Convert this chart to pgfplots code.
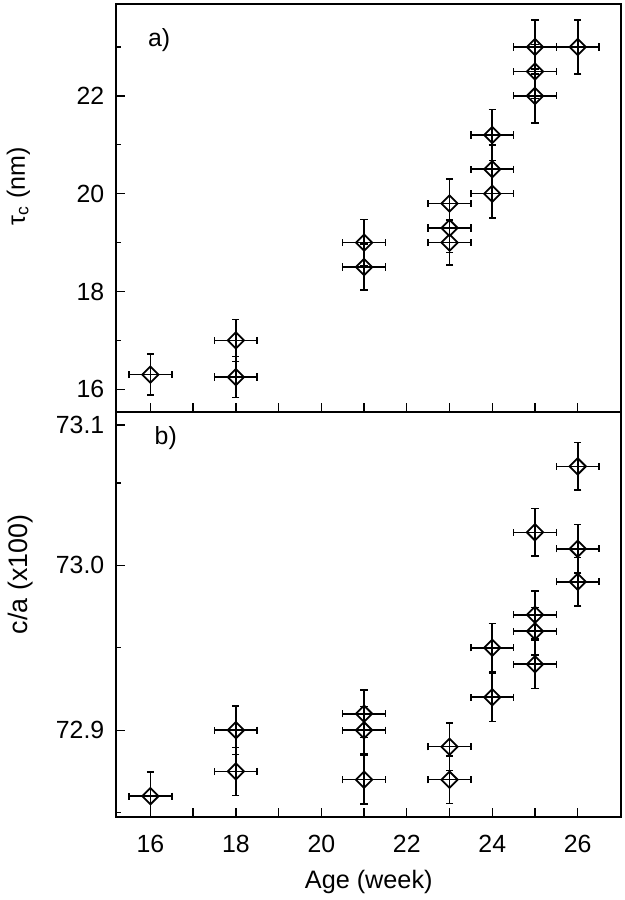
\documentclass[border=0pt]{standalone}
\usepackage{fontspec}
\setmainfont{Liberation Sans}
\usepackage{pgfplots}
\pgfplotsset{compat=1.18}
\usepackage{pgfplotstable}
\pgfplotstableread{
x y ex ey
16 16.3 0.5 0.42
18 17.0 0.5 0.43
18 16.25 0.5 0.42
21 19.0 0.5 0.47
21 18.5 0.5 0.47
23 19.8 0.5 0.5
23 19.3 0.5 0.5
23 19.0 0.5 0.46
24 21.2 0.5 0.52
24 20.5 0.5 0.5
24 20.0 0.5 0.5
25 23.0 0.5 0.55
25 22.5 0.5 0.55
25 22.0 0.5 0.55
26 23.0 0.5 0.55
}\tautable
\pgfplotstableread{
x y ex ey
16 72.86 0.5 0.0145
18 72.90 0.5 0.0148
18 72.875 0.5 0.0145
21 72.91 0.5 0.0145
21 72.90 0.5 0.0145
21 72.87 0.5 0.0146
23 72.89 0.5 0.0145
23 72.87 0.5 0.0145
24 72.95 0.5 0.0148
24 72.92 0.5 0.0148
25 73.02 0.5 0.0145
25 72.97 0.5 0.0145
25 72.96 0.5 0.0145
25 72.94 0.5 0.0148
26 73.06 0.5 0.0145
26 73.01 0.5 0.0148
26 72.99 0.5 0.0148
}\catable
\pgfplotsset{
  myaxis/.style={
    scale only axis, width=254.2pt,
    xmin=15.2, xmax=27.02,
    axis line style={line width=1.1pt},
    tick style={line width=0.7pt, black},
    major tick length=4.5pt, minor tick length=2.5pt,
    tick align=inside,
    xtick pos=bottom, ytick pos=left,
    xtick={16,...,26},
    /pgf/number format/assume math mode=true,
    tick label style={font=\fontsize{12.5}{14}\selectfont},
    yticklabel style={xshift=-2.5pt},
  },
  mypts/.style={black, line width=0.8pt, only marks, mark=square, mark size=2.9pt,
    mark options={rotate=45, line width=0.9pt},
    error bars/.cd, x dir=both, x explicit, y dir=both, y explicit,
    error bar style={line width=0.8pt}, error mark options={rotate=90, mark size=1.8pt, line width=0.8pt}},
}
\begin{document}
\begin{tikzpicture}
\begin{axis}[myaxis, name=top, height=205.5pt,
  ymin=15.53, ymax=23.88,
  ytick={16,18,20,22}, minor ytick={17,19,21,23},
  xticklabels={},
  every axis y label/.style={at={(axis description cs:0,0.553)}, xshift=-49.3pt, rotate=90, anchor=center, font=\fontsize{12.6}{14}\selectfont},
  ylabel={τ\textsubscript{c} (nm)}]
\addplot[mypts] table[x=x, y=y, x error=ex, y error=ey]{\tautable};
\node[font=\fontsize{12.5}{14}\selectfont] at (axis description cs:0.085,0.912) {a)};
\end{axis}
\begin{axis}[myaxis, name=bot, height=203.5pt,
  at={(top.south west)}, anchor=north west,
  ymin=72.8476, ymax=73.0928,
  ytick={72.9,73.0,73.085}, yticklabels={72.9,73.0,73.1},
  minor ytick={72.85,72.95,73.05},
  xticklabels={16,,18,,20,,22,,24,,26},
  xticklabel style={anchor=base, yshift=-18pt},
  every axis x label/.style={at={(axis description cs:0.5,0)}, yshift=-36pt, anchor=base, font=\fontsize{12.7}{14}\selectfont},
  xlabel={Age (week)},
  every axis y label/.style={at={(axis description cs:0,0.599)}, xshift=-48.3pt, rotate=90, anchor=center, font=\fontsize{13.5}{15}\selectfont},
  ylabel={c/a (x100)}]
\addplot[mypts] table[x=x, y=y, x error=ex, y error=ey]{\catable};
\node[font=\fontsize{12.5}{14}\selectfont] at (axis description cs:0.098,0.935) {b)};
\end{axis}
\path ([xshift=-56.3pt,yshift=2pt]top.north west) rectangle ([xshift=1.5pt,yshift=-39pt]bot.south east);
\end{tikzpicture}
\end{document}
